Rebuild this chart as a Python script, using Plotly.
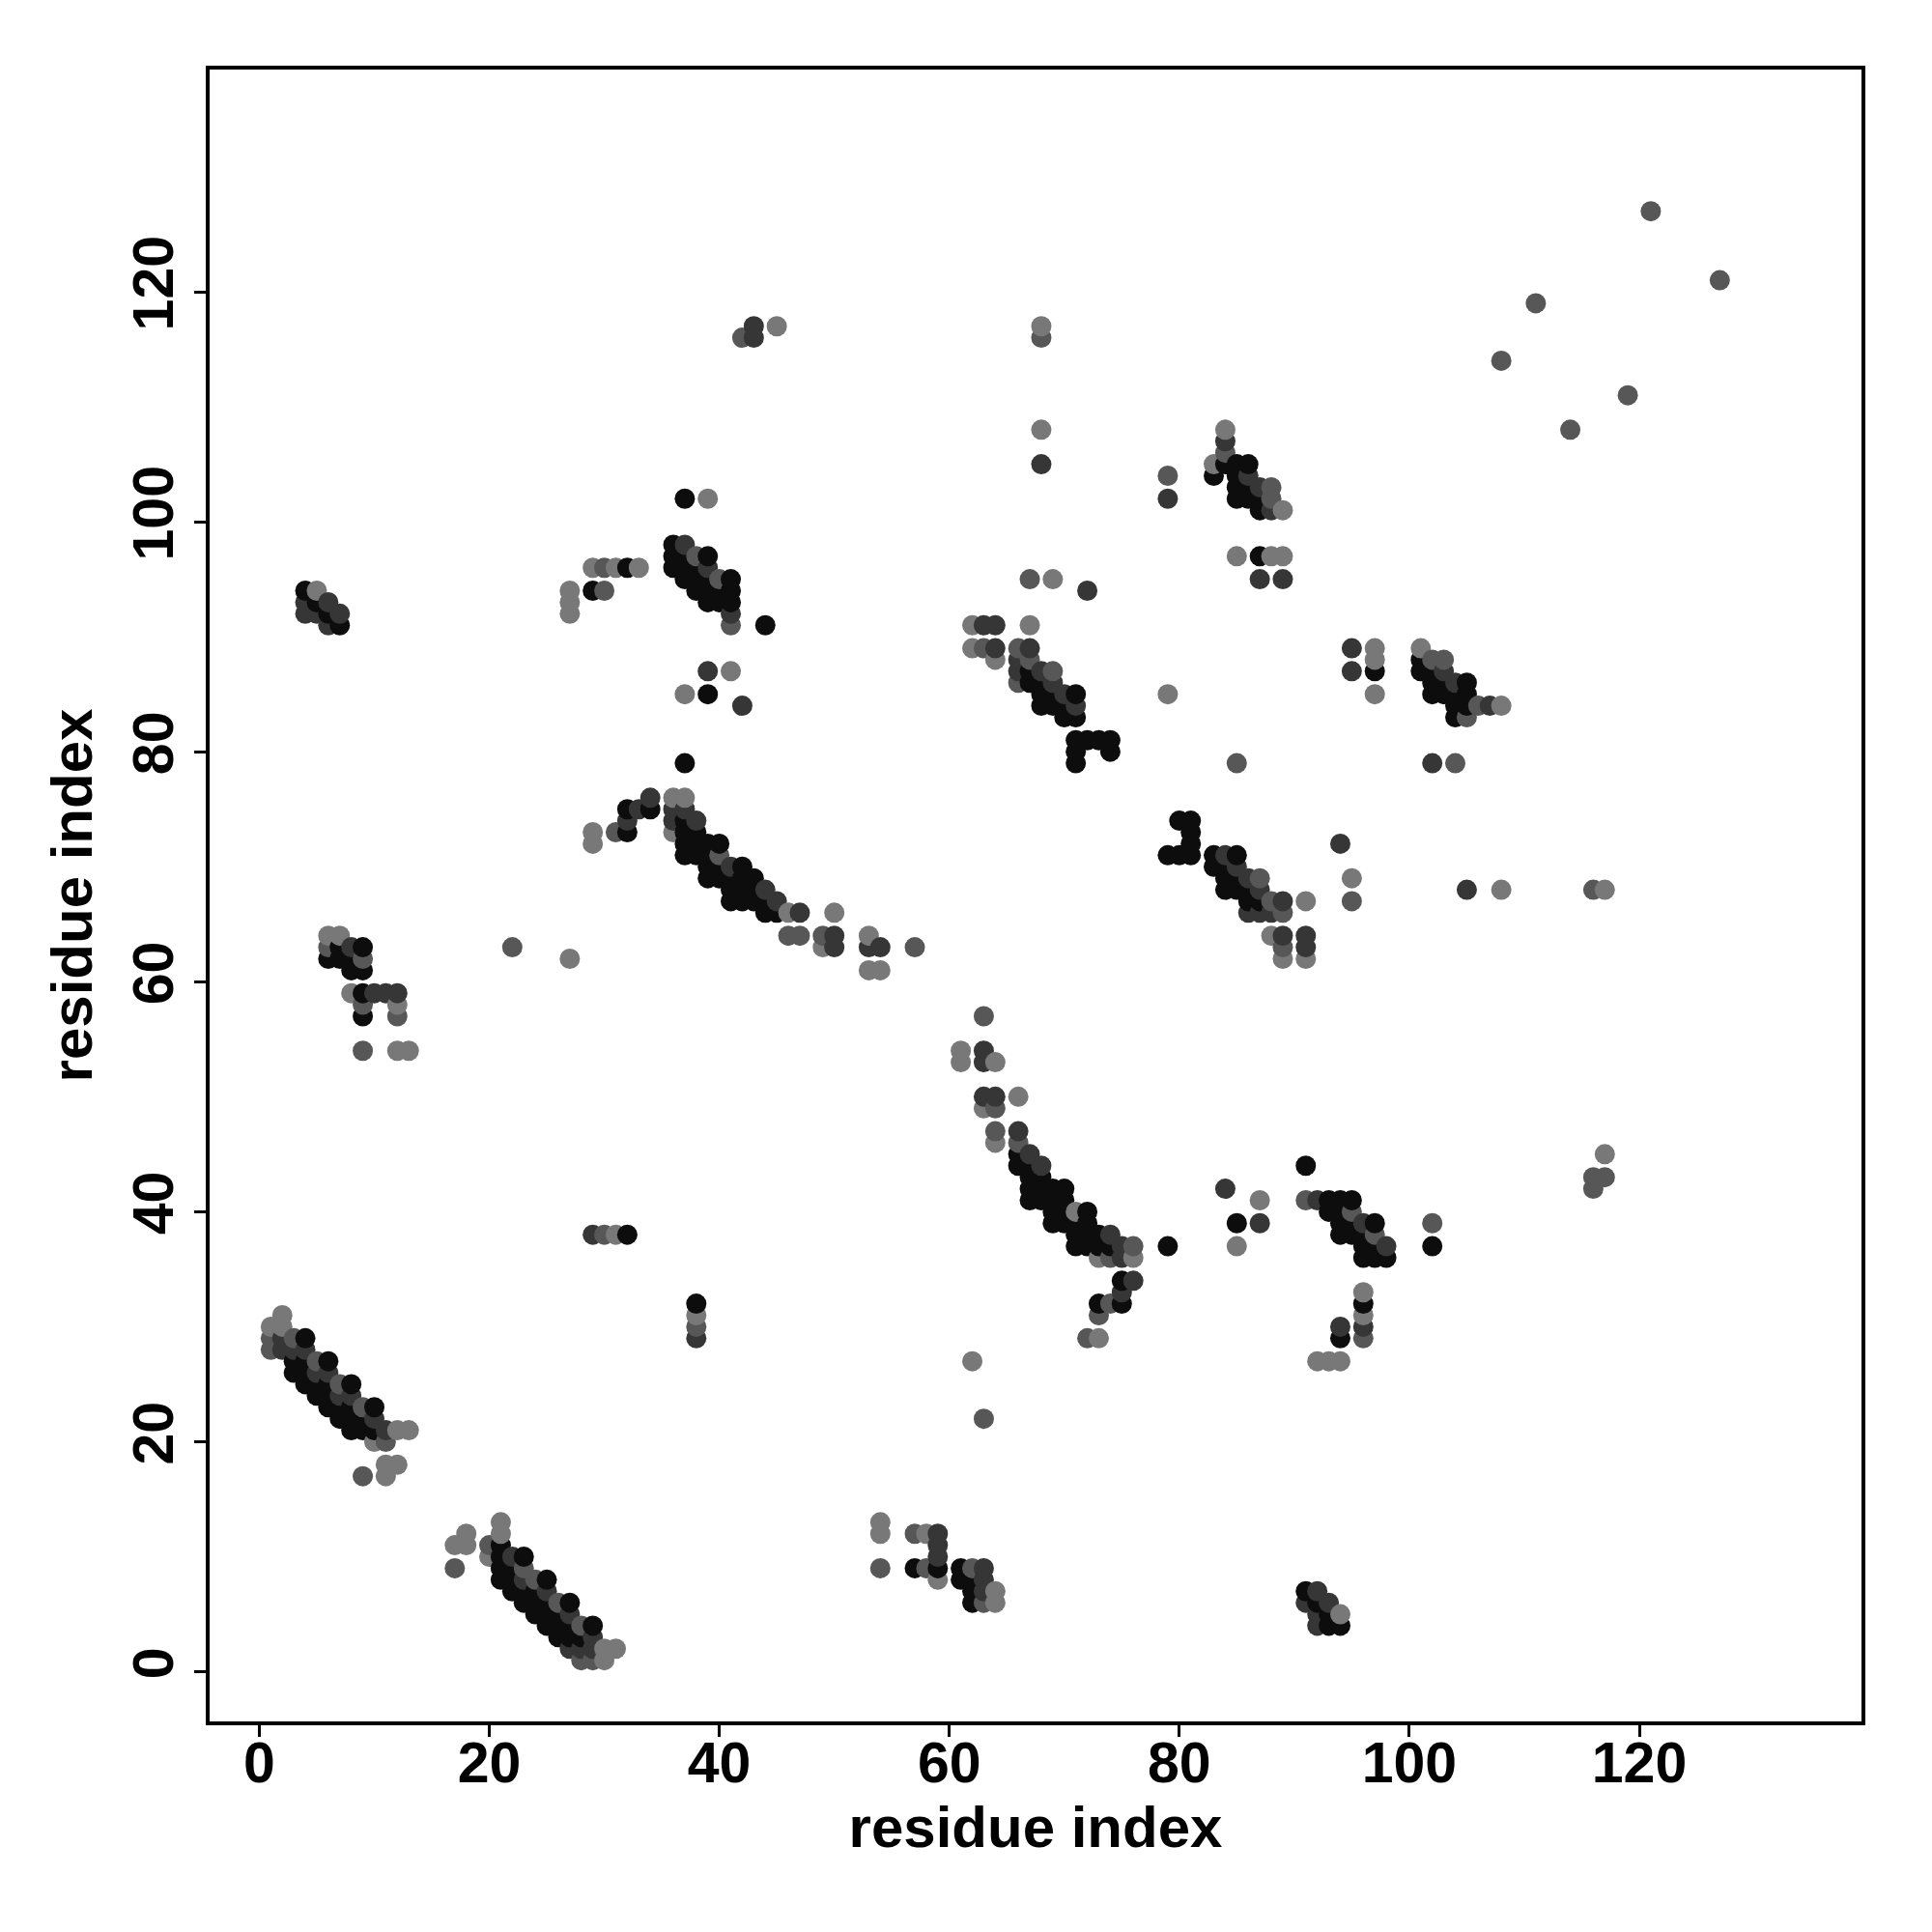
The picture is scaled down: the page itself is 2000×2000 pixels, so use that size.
import plotly.graph_objects as go

# contact map: residue i, residue j, shade level (k=black, d=dark, m=mid, l=light)
res_i = [
 1,1,1, 2,2,2,2, 3,3,3,3, 4,4,4,4,4, 5,5,5,5, 6,6,6,6,6, 7,7,7,7, 8,8,8,8,8, 9,9,9, 10,10,10,10, 11,11, 12, 13,
 9, 11, 11, 12,
 17, 17, 18, 18, 20, 20,
 21,21,21,21,21,21, 22,22,22,22, 23,23,23,23,23, 24,24,24,24, 25,25,25,25,25, 26,26,26,26, 27,27,27,27,27, 28,28,28,28, 29,29,29,29, 30,30, 31,
 38,38,38,38, 29,30,31,32,
 6,7,6,7,8,9,6,7,8,9,8,9,8,9,10,11,12,9,9,12,12,9,12,13,
 4,5,4,5,6,4,5,6,7,6,7,
 29,30,31,32,33,27,27,27,29,30,
 36,37,36,37,38,39,36,37,38,39,37,38,39,40,41,38,39,40,41,39,40,41,41,41,44,37,39,39,41,37,39,42,
 42,43,43,45, 68,68,68,68,
 79,79,84,84,84,83,83,84,85,86,85,86,85,86,87,88,85,86,87,88,87,88,89,85,87,88,89,87,89,
 121,127,111,108,119,114,
 67,69,72,62,63,64,67,62,63,64,64,66,67,66,67,66,67,68,69,66,67,68,69,68,69,70,71,68,69,70,71,70,71,71,72,73,74,71,74,71,79,
 80,81,81,81,79,80,81,
 83,84,85,83,84,85,84,85,86,87,84,85,86,87,86,87,88,89,91,86,87,88,89,88,89,91,89,91,89,91,94,95,95,105,108,116,117,85,
 63,61,61,63,63,64,63,64,66,63,64,64,66,64,66,66,67,66,67,68,67,68,67,68,69,70,67,68,69,70,69,70,71,72,69,70,71,72,71,72,73,74,71,72,73,74,75,76,73,74,75,76,75,76,75,73,74,75,73,72,73,62,63,79,
 54,54,54,57,58,59,59,59,57,58,59,59,61,62,63,61,62,63,62,63,64,62,63,64,
 91,84,87,85,87,85,91,92,93,94,95,93,94,95,94,95,96,97,94,95,96,97,96,97,98,96,97,98,102,102,117,116,117,116,96,96,96,96,96,94,94,92,93,94,
 91,92,91,92,93,92,93,94,92,93,94,
 95,97,97,95,97,97,
 101,101,102,103,101,102,103,102,103,104,105,102,103,104,105,104,105,106,107,108,104,105,102,104,
 29,29,31,32,32,32,33,34,34,37,
 36,36,36,36,37,37,37,37,37,37,38,38,38,38,39,39,39,39,40,40,40,40,41,41,41,41,42,42,42,42,43,43,43,44,44,44,45,45,46,46,47,47,
 49,49,50,50,50,53,53,54,57,53,54,22,27,
]
res_j = [
 28,29,30, 28,29,30,31, 26,27,28,29, 25,26,27,28,29, 24,25,26,27, 23,24,25,26,27, 22,23,24,25, 21,22,23,24,25, 21,22,23, 20,21,22,23, 20,21, 21, 21,
 17, 17, 18, 18,
 9, 11, 11, 12, 10, 11,
 8,9,10,11,12,13, 7,8,9,10, 6,7,8,9,10, 5,6,7,8, 4,5,6,7,8, 3,4,5,6, 2,3,4,5,6, 1,2,3,4, 1,2,3,4, 1,2, 2,
 32,31,30,29, 38,38,38,38,
 64,64,63,63,63,63,62,62,62,62,61,61,59,59,59,59,59,58,57,58,57,54,54,54,
 94,94,93,93,93,92,92,92,92,91,91,
 96,96,96,96,96,94,93,92,94,94,
 98,98,97,97,97,97,96,96,96,96,95,95,95,95,95,94,94,94,94,93,93,93,92,91,91,102,102,87,87,85,85,84,
 116,117,116,117, 117,116,108,105,
 104,102,108,107,106,105,104,105,105,105,104,104,103,103,103,103,102,102,102,102,101,101,101,97,97,97,97,95,95,
 127,121,119,114,111,108,
 95,95,94,91,91,91,91,89,89,89,88,89,89,88,88,87,87,87,87,86,86,86,86,85,85,85,85,84,84,84,84,83,83,81,81,81,81,80,80,79,85,
 74,74,73,72,71,71,71,
 71,71,71,70,70,70,69,69,69,69,68,68,68,68,67,67,67,67,67,66,66,66,66,64,64,64,63,63,62,62,72,69,67,68,68,68,68,79,
 57,54,53,54,53,53,50,50,50,49,49,47,47,46,46,45,45,44,44,44,43,43,42,42,42,42,41,41,41,41,40,40,40,40,39,39,39,39,38,38,38,38,37,37,37,37,37,37,36,36,36,36,34,34,33,32,32,32,31,29,29,27,22,37,
 13,12,9,12,12,12,11,10,9,9,9,8,9,9,9,8,8,8,7,7,7,6,6,6,
 44,42,41,39,39,37,41,41,41,41,41,40,40,40,39,39,39,39,38,38,38,38,37,37,37,36,36,36,39,37,45,43,43,42,33,32,31,30,29,30,29,27,27,27,
 7,7,6,6,6,5,5,5,4,4,4,
 89,89,88,87,87,85,
 89,88,88,88,87,87,87,86,86,86,86,85,85,85,85,84,84,84,84,84,83,83,79,79,
 73,72,73,73,74,75,75,76,75,79,
 76,75,74,73,76,75,74,73,72,71,74,73,72,71,72,71,70,69,72,71,70,69,70,69,68,67,70,69,68,67,69,68,67,68,67,66,67,66,66,64,66,64,
 64,63,66,64,63,64,63,63,63,61,61,63,62,
]
res_level = [
 'm','m','l', 'd','d','l','l', 'k','k','d','m', 'k','k','k','d','k', 'k','k','d','m', 'k','k','k','d','k', 'k','k','d','m', 'k','k','k','d','k', 'k','k','m', 'l','k','d','k', 'm','d', 'l', 'l',
 'm', 'l', 'l', 'l',
 'm', 'l', 'l', 'l', 'l', 'm',
 'k','k','k','k','l','l', 'k','k','k','d', 'k','k','d','m','k', 'k','k','k','m', 'k','k','k','d','k', 'k','k','k','m', 'd','k','k','d','k', 'm','d','k','m', 'm','d','d','k', 'l','l', 'l',
 'k','l','m','d', 'd','m','l','k',
 'l','l','m','k','d','k','k','k','k','m','k','k','l','k','d','d','d','m','k','l','m','m','l','l',
 'k','l','d','k','d','d','d','k','d','d','k',
 'l','m','l','k','l','l','l','l','k','m',
 'k','d','k','k','m','k','k','k','k','d','k','k','k','m','k','k','k','k','k','k','k','k','d','m','k','k','l','d','l','l','k','d',
 'm','d','d','l', 'l','m','l','d',
 'm','d','l','d','m','l','k','k','k','k','k','d','k','k','d','m','k','k','k','m','k','d','l','l','k','l','l','d','d',
 'm','m','m','m','m','m',
 'm','l','d','l','d','d','l','l','m','d','l','m','d','d','m','d','k','d','m','m','k','k','d','k','k','d','k','k','k','k','d','k','k','k','k','k','k','k','k','k','l',
 'k','k','k','k','k','k','k',
 'k','d','k','k','k','d','k','k','d','m','k','k','k','d','k','k','m','d','l','d','d','d','m','l','d','d','m','d','l','l','d','l','m','d','l','m','l','m',
 'm','l','l','d','d','l','d','d','l','l','m','m','d','l','m','k','d','k','k','d','k','k','k','k','k','k','k','k','k','k','k','k','l','k','k','k','k','k','k','k','k','d','k','k','k','k','d','m','l','m','d','l','k','d','d','k','m','k','m','m','l','l','m','k',
 'l','l','m','m','l','d','d','d','k','m','k','l','k','m','d','k','k','d','k','d','l','k','m','l',
 'k','d','l','k','d','l','m','d','k','k','k','k','k','m','k','k','d','k','k','k','k','m','k','k','d','k','k','k','m','k','l','m','m','m','l','k','l','d','m','d','k','l','l','l',
 'k','d','d','k','d','d','k','l','d','k','k',
 'd','l','l','d','k','l',
 'l','k','m','m','k','k','d','k','k','d','k','k','k','k','k','k','k','m','d','l','k','m','d','m',
 'l','l','m','k','d','k','d','d','k','k',
 'l','d','d','l','l','d','k','k','k','k','d','k','k','k','k','k','k','k','k','m','k','k','d','k','k','k','k','k','k','k','k','k','k','d','k','k','d','k','l','m','d','m',
 'm','l','l','d','d','l','d','d','m','l','l','m','l',
]

shade_colors = {'k': '#0d0d0d', 'd': '#363636', 'm': '#575757', 'l': '#787878'}
tick_vals = [0, 20, 40, 60, 80, 100, 120]
axis_title = "residue index"

n = min(len(res_i), len(res_j), len(res_level))
pts = sorted(zip(res_i[:n], res_j[:n], res_level[:n]), key=lambda p: (p[0], p[1]))
xs = [p[0] for p in pts]
ys = [p[1] for p in pts]
cols = [shade_colors[p[2]] for p in pts]

fig = go.Figure(go.Scatter(
    x=xs, y=ys, mode="markers",
    marker=dict(size=21, color=cols, line=dict(width=0)),
    hoverinfo="x+y",
))

font_family = "Liberation Sans, Arial, Helvetica, sans-serif"
tick_font = dict(family=font_family, size=59, color="black", weight="bold")
title_font = dict(family=font_family, size=60, color="black", weight="bold")
axis_common = dict(
    range=[-4.32, 139.32],
    tickvals=tick_vals,
    ticks="outside", ticklen=12, tickwidth=3, tickcolor="black",
    showline=True, linewidth=4, linecolor="black", mirror=True,
    showgrid=False, zeroline=False,
    tickfont=tick_font,
)

fig.update_layout(
    width=2000, height=2000,
    margin=dict(l=209, r=81, t=64, b=226),
    paper_bgcolor="white", plot_bgcolor="white",
    showlegend=False,
    xaxis=dict(**axis_common, ticklabelstandoff=-24,
               title=dict(text=axis_title, standoff=10, font=title_font)),
    yaxis=dict(**axis_common, tickangle=-90, ticklabelstandoff=-2,
               title=dict(text=axis_title, standoff=12, font=title_font)),
)

fig.write_html("out.html")
